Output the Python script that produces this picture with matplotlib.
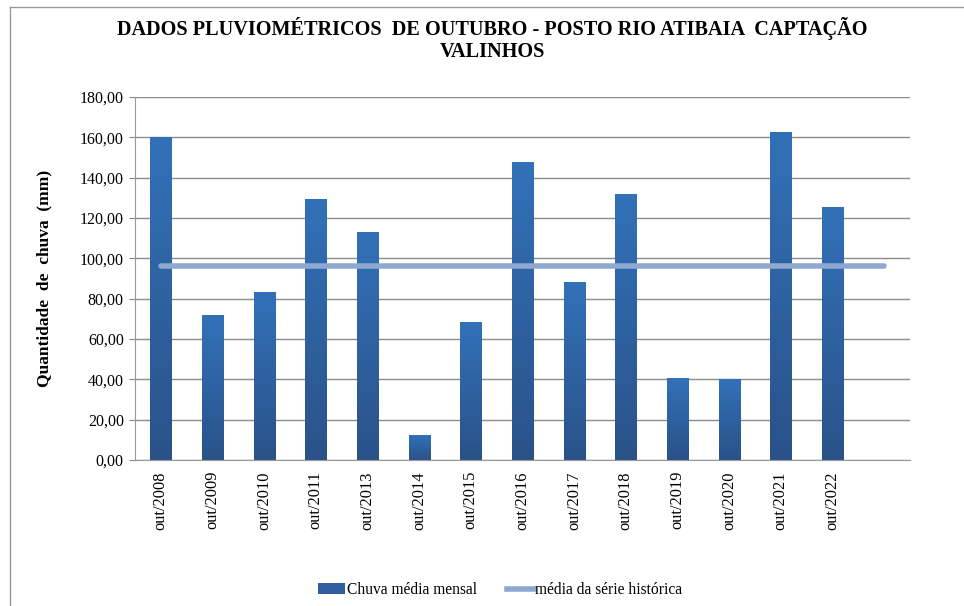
import numpy as np
import matplotlib.pyplot as plt
from matplotlib.lines import Line2D
from matplotlib.patches import Patch

plt.rcParams['font.family'] = ['Liberation Serif', 'DejaVu Serif']

meses = ["out/2008", "out/2009", "out/2010", "out/2011", "out/2013", "out/2014",
         "out/2015", "out/2016", "out/2017", "out/2018", "out/2019", "out/2020",
         "out/2021", "out/2022", ""]
chuva = [160.0, 71.5, 83.2, 129.3, 112.9, 12.0, 68.0, 147.5, 88.0, 131.7,
         40.2, 39.8, 162.6, 125.3, np.nan]
media_historica = [96.0] * 15

fig = plt.figure(figsize=(9.64, 6.06), dpi=100)
ax = fig.add_axes([0.140, 0.241, 0.804, 0.599])

x = np.arange(len(meses))
largura = 0.41

# bars with vertical gradient (dark at the bottom, lighter at the top)
grad = np.linspace(0, 1, 256).reshape(-1, 1)
cmap = plt.matplotlib.colors.LinearSegmentedColormap.from_list(
    "azul", ["#2a5289", "#3271b8"])
for xi, v in zip(x, chuva):
    if np.isnan(v):
        continue
    ax.imshow(grad, extent=[xi - largura / 2, xi + largura / 2, 0, v],
              origin="lower", cmap=cmap, aspect="auto", zorder=2)

ax.plot(x, media_historica, color="#8ea8d0", linewidth=4,
        solid_capstyle="round", zorder=3)

ax.set_xlim(-0.5, len(meses) - 0.5)
ax.set_ylim(0, 180)
ax.set_yticks(np.arange(0, 181, 20))
ax.set_yticklabels([f"{t:.2f}".replace(".", ",") for t in np.arange(0, 181, 20)],
                   fontsize=11.5)
ax.set_xticks(x)
ax.set_xticklabels(meses, rotation=90, fontsize=11.8)
ax.tick_params(axis="x", length=0, pad=8)
ax.tick_params(axis="y", length=4, color="#888888", pad=4)
ax.yaxis.grid(True, color="#8c8c8c", linewidth=1, zorder=0)
ax.set_axisbelow(True)
for s in ["top", "right"]:
    ax.spines[s].set_visible(False)
ax.spines["left"].set_color("#999999")
ax.spines["bottom"].set_color("#999999")

ax.set_ylabel("Quantidade  de  chuva  (mm)", fontsize=12.5, fontweight="bold",
              labelpad=20)

fig.text(0.511, 0.972, "DADOS PLUVIOMÉTRICOS  DE OUTUBRO - POSTO RIO ATIBAIA  CAPTAÇÃO\nVALINHOS",
         ha="center", va="top", fontsize=14.6, fontweight="bold",
         linespacing=1.15)

handles = [Patch(facecolor="#2e5e9e", edgecolor="none"),
           Line2D([0], [0], color="#8ea8d0", linewidth=4)]
fig.legend(handles, ["Chuva média mensal", "média da série histórica"],
           loc="center", bbox_to_anchor=(0.519, 0.026), ncol=2, frameon=False,
           fontsize=11.2, handlelength=1.75, handletextpad=0.1, columnspacing=1.9)

# outer frame of the chart area
fig.add_artist(Line2D([10 / 964, 1], [1 - 7 / 606, 1 - 7 / 606],
                      color="#999999", linewidth=1))
fig.add_artist(Line2D([10 / 964, 10 / 964], [0, 1 - 7 / 606],
                      color="#999999", linewidth=1))

fig.savefig("out.png", dpi=100)
